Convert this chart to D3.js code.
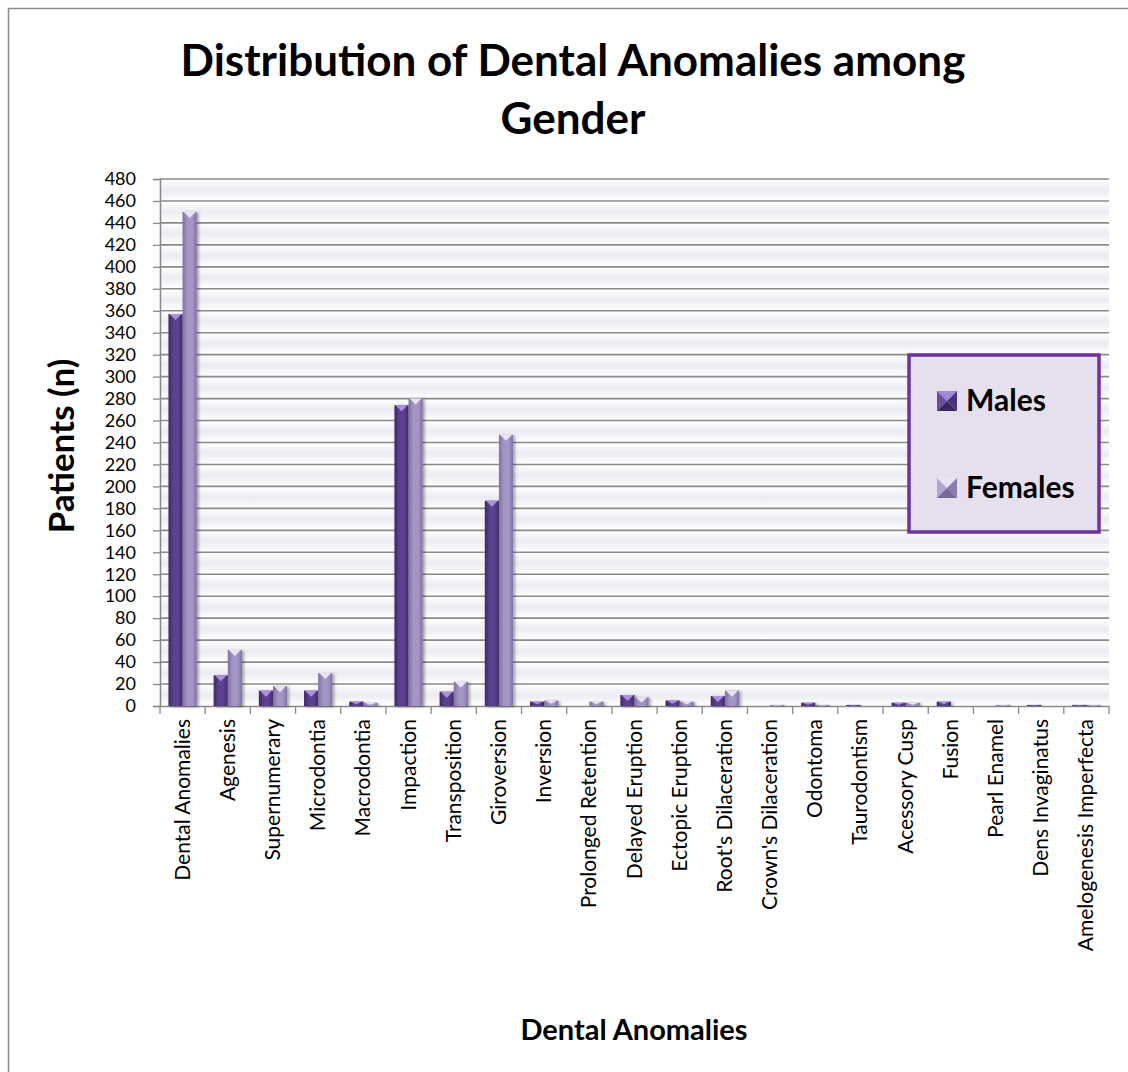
<!DOCTYPE html>
<html>
<head>
<meta charset="utf-8">
<script src="https://cdn.jsdelivr.net/npm/d3@7"></script>
<style>
    body { margin: 0; background: #fff; }
    svg { display: block; font-family: Lato, "Open Sans", sans-serif; }
</style>
</head>
<body>
<div id="chart"></div>
<script>
const categories = [
    'Dental Anomalies', 'Agenesis', 'Supernumerary', 'Microdontia', 'Macrodontia',
    'Impaction', 'Transposition', 'Giroversion', 'Inversion', 'Prolonged Retention',
    'Delayed Eruption', 'Ectopic Eruption', "Root's Dilaceration", "Crown's Dilaceration",
    'Odontoma', 'Taurodontism', 'Acessory Cusp', 'Fusion', 'Pearl Enamel',
    'Dens Invaginatus', 'Amelogenesis Imperfecta'
];
const males = [357, 28, 14, 14, 4, 274, 13, 187, 4, 0, 10, 5, 9, 0, 3, 1, 3, 4, 0, 1, 1];
const females = [450, 51, 18, 30, 3, 280, 22, 247, 5, 4, 8, 4, 14, 1, 1, 0, 3, 0, 1, 0, 1];
const seriesNames = ['Males', 'Females'];
const yTicks = d3.range(0, 481, 20);

const W = 1128, H = 1072;
const M = { left: 160, right: 1109, top: 179, bottom: 706 };

// colour sets per series: [edge, mid, cap, swatch top/left/right/bottom]
const PALETTE = {
    Males: { edge: '#3d2766', mid: '#5d4190', cap: '#b49ce4', sw: ['#a488d8', '#6a4d9e', '#4b3378', '#3a2760'] },
    Females: { edge: '#8070a3', mid: '#a395c4', cap: '#f1ebfb', sw: ['#ebe3f8', '#b3a5d2', '#8b7bae', '#766899'] },
};

const svg = d3.select('#chart').append('svg')
    .attr('width', W)
    .attr('height', H);

const defs = svg.append('defs');

seriesNames.forEach((name) => {
    const p = PALETTE[name];
    const g = defs.append('linearGradient').attr('id', `grad-${name}`)
        .attr('x1', 0).attr('x2', 1).attr('y1', 0).attr('y2', 0);
    g.append('stop').attr('offset', '0%').attr('stop-color', p.edge);
    g.append('stop').attr('offset', '35%').attr('stop-color', p.mid);
    g.append('stop').attr('offset', '70%').attr('stop-color', p.mid);
    g.append('stop').attr('offset', '100%').attr('stop-color', p.edge);
});

const stripe = defs.append('linearGradient').attr('id', 'stripe')
    .attr('x1', 0).attr('x2', 0).attr('y1', 0).attr('y2', 1);
stripe.append('stop').attr('offset', '0%').attr('stop-color', '#ffffff');
stripe.append('stop').attr('offset', '50%').attr('stop-color', '#ecebf3');
stripe.append('stop').attr('offset', '100%').attr('stop-color', '#ffffff');

const shadow = defs.append('filter').attr('id', 'shadow')
    .attr('x', '-50%').attr('y', '-10%').attr('width', '200%').attr('height', '130%');
shadow.append('feDropShadow')
    .attr('dx', 2).attr('dy', 1).attr('stdDeviation', 1.5)
    .attr('flood-color', '#000').attr('flood-opacity', 0.35);

// outer frame
svg.append('rect')
    .attr('x', 8.5).attr('y', 8.5)
    .attr('width', 1140).attr('height', 1100)
    .attr('fill', 'none')
    .attr('stroke', '#8c8c8c')
    .attr('stroke-width', 1.5);

// title
const title = svg.append('text')
    .attr('text-anchor', 'middle')
    .style('font-weight', 'bold')
    .style('font-size', '44px')
    .attr('fill', '#000');
title.append('tspan').attr('x', 573).attr('y', 76).text('Distribution of Dental Anomalies among');
title.append('tspan').attr('x', 573).attr('y', 134).text('Gender');

const x = d3.scaleBand()
    .domain(categories)
    .range([M.left, M.right]);

const xSub = d3.scaleBand()
    .domain(seriesNames)
    .range([0, x.bandwidth()])
    .paddingOuter(0.6);

const y = d3.scaleLinear()
    .domain([0, 480])
    .range([M.bottom, M.top]);

// background stripes between gridlines
svg.append('g')
    .selectAll('rect')
    .data(yTicks.slice(1))
    .join('rect')
    .attr('x', M.left)
    .attr('y', (d) => y(d))
    .attr('width', M.right - M.left)
    .attr('height', (d) => y(d - 20) - y(d))
    .attr('fill', 'url(#stripe)');

// gridlines
svg.append('g')
    .selectAll('line')
    .data(yTicks.slice(1))
    .join('line')
    .attr('x1', M.left)
    .attr('x2', M.right)
    .attr('y1', (d) => y(d))
    .attr('y2', (d) => y(d))
    .attr('stroke', '#8a8a8a')
    .attr('stroke-width', 1.6);

// y axis
const yAxis = svg.append('g')
    .attr('transform', `translate(${M.left},0)`)
    .call(d3.axisLeft(y).tickValues(yTicks).tickSize(7).tickPadding(17));
yAxis.select('.domain').attr('stroke', '#8a8a8a').attr('stroke-width', 1.6);
yAxis.selectAll('.tick line').attr('stroke', '#8a8a8a').attr('stroke-width', 1.3);
yAxis.selectAll('.tick text')
    .attr('fill', '#000')
    .style('font-size', '18px')
    .style('font-family', 'Lato, sans-serif');

// x axis
const xAxis = svg.append('g')
    .attr('transform', `translate(0,${M.bottom})`)
    .call(d3.axisBottom(x).tickSize(0).tickPadding(0));
xAxis.select('.domain').attr('stroke', '#8a8a8a').attr('stroke-width', 1.6);
xAxis.selectAll('.tick text')
    .attr('fill', '#000')
    .style('font-size', '21px')
    .style('font-family', 'Lato, sans-serif')
    .attr('text-anchor', 'end')
    .attr('dy', null)
    .attr('y', 0)
    .attr('transform', 'translate(7,13) rotate(-90)');

// band boundary ticks on x axis
svg.append('g')
    .selectAll('line')
    .data(categories.concat(['__end']))
    .join('line')
    .attr('x1', (d, i) => M.left + i * x.step())
    .attr('x2', (d, i) => M.left + i * x.step())
    .attr('y1', M.bottom)
    .attr('y2', M.bottom + 8)
    .attr('stroke', '#8a8a8a')
    .attr('stroke-width', 1.3);

// bars
const rows = categories.map((c, i) => ({ category: c, values: [
    { name: 'Males', value: males[i] },
    { name: 'Females', value: females[i] },
] }));

const groups = svg.append('g')
    .selectAll('g')
    .data(rows)
    .join('g')
    .attr('transform', (d) => `translate(${x(d.category)},0)`);

const bars = groups.selectAll('g')
    .data((d) => d.values.filter((v) => v.value > 0))
    .join('g')
    .attr('filter', 'url(#shadow)');

bars.append('rect')
    .attr('x', (d) => xSub(d.name))
    .attr('y', (d) => y(d.value))
    .attr('width', xSub.bandwidth())
    .attr('height', (d) => y(0) - y(d.value))
    .attr('fill', (d) => `url(#grad-${d.name})`);

bars.append('path')
    .attr('d', (d) => {
        const x0 = xSub(d.name);
        const x1 = x0 + xSub.bandwidth();
        const top = y(d.value);
        const h = Math.min(6, (y(0) - top) * 0.6);
        return `M${x0 + 1},${top}L${x1 - 1},${top}L${(x0 + x1) / 2},${top + h}Z`;
    })
    .attr('fill', (d) => PALETTE[d.name].cap)
    .attr('opacity', 0.9);

// axis titles
svg.append('text')
    .attr('transform', 'translate(74,446) rotate(-90)')
    .attr('text-anchor', 'middle')
    .style('font-weight', 'bold')
    .style('font-size', '35px')
    .text('Patients (n)');

svg.append('text')
    .attr('x', 634)
    .attr('y', 1040)
    .attr('text-anchor', 'middle')
    .style('font-weight', 'bold')
    .style('font-size', '29px')
    .text('Dental Anomalies');

// legend
const legend = svg.append('g');
legend.append('rect')
    .attr('x', 909).attr('y', 355)
    .attr('width', 190).attr('height', 177)
    .attr('fill', '#e6e0ee')
    .attr('stroke', '#7030a0')
    .attr('stroke-width', 3.5);

const legendItems = legend.selectAll('g.item')
    .data(seriesNames)
    .join('g')
    .attr('class', 'item')
    .attr('transform', (d, i) => `translate(937,${391 + i * 87})`);

legendItems.each(function (name) {
    const g = d3.select(this);
    const s = 20;
    const sw = PALETTE[name].sw;
    const c = s / 2;
    g.append('path').attr('d', `M0,0L${s},0L${c},${c}Z`).attr('fill', sw[0]);
    g.append('path').attr('d', `M0,0L0,${s}L${c},${c}Z`).attr('fill', sw[1]);
    g.append('path').attr('d', `M${s},0L${s},${s}L${c},${c}Z`).attr('fill', sw[2]);
    g.append('path').attr('d', `M0,${s}L${s},${s}L${c},${c}Z`).attr('fill', sw[3]);
    g.append('text')
        .attr('x', 29)
        .attr('y', 20)
        .style('font-weight', 'bold')
        .style('font-size', '30px')
        .text(name);
});
</script>
</body>
</html>
